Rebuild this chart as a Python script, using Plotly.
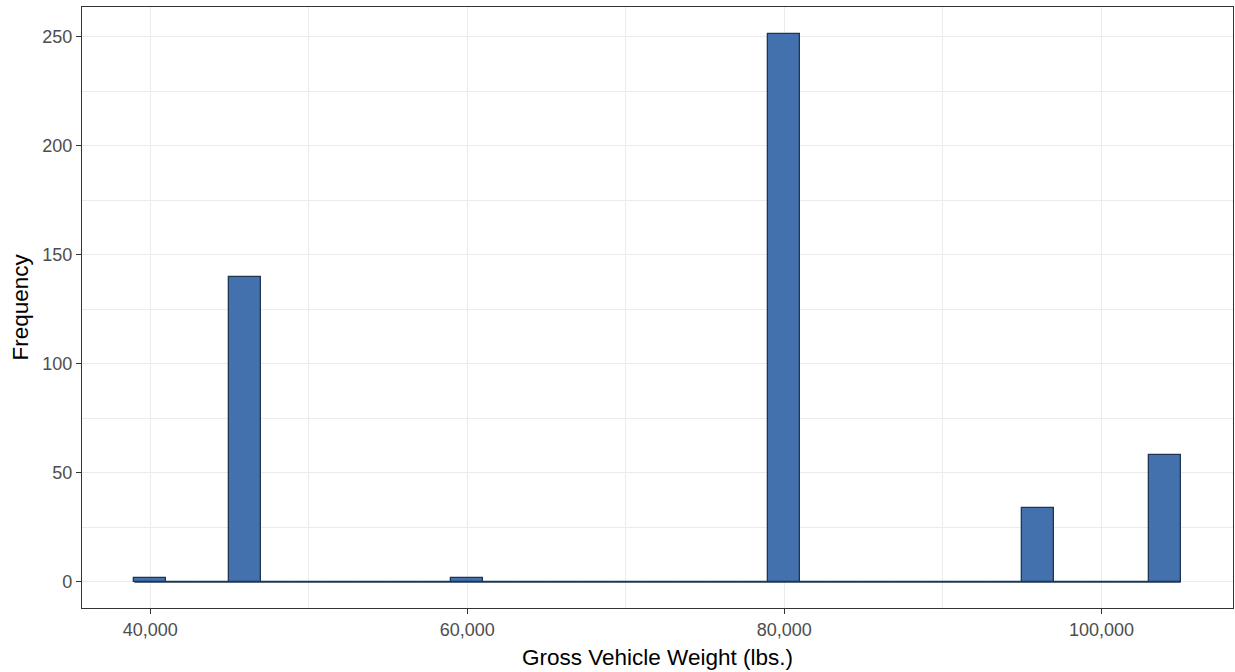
import plotly.graph_objects as go

# histogram bins (2,000 lb wide), counts
bin_width = 2000
bin_centers = [40000, 42000, 44000, 46000, 48000, 50000, 52000, 54000, 56000,
               58000, 60000, 62000, 64000, 66000, 68000, 70000, 72000, 74000,
               76000, 78000, 80000, 82000, 84000, 86000, 88000, 90000, 92000,
               94000, 96000, 98000, 100000, 102000, 104000]
counts = [2, 0, 0, 140, 0, 0, 0, 0, 0,
          0, 2, 0, 0, 0, 0, 0, 0, 0,
          0, 0, 251, 0, 0, 0, 0, 0, 0,
          0, 34, 0, 0, 0, 58]

x_ticks = [40000, 60000, 80000, 100000]
x_labels = ["40,000", "60,000", "80,000", "100,000"]
y_ticks = [0, 50, 100, 150, 200, 250]

fill_col = "#4271AE"
edge_col = "#1F3552"
grid_col = "#EBEBEB"
border_col = "#333333"

fig = go.Figure()

# empty bins show up as a flat outline along zero (ggplot style)
fig.add_trace(go.Scatter(
    x=[bin_centers[0] - bin_width / 2, bin_centers[-1] + bin_width / 2],
    y=[0, 0],
    mode="lines",
    line=dict(color=edge_col, width=1.3),
    showlegend=False,
    hoverinfo="skip",
))

fig.add_trace(go.Bar(
    x=bin_centers,
    y=counts,
    width=bin_width,
    marker=dict(color=fill_col, line=dict(color=edge_col, width=1.3)),
    showlegend=False,
))

# ggplot's 5% expansion on both axes
x_lo = bin_centers[0] - bin_width / 2
x_hi = bin_centers[-1] + bin_width / 2
x_pad = (x_hi - x_lo) * 0.05
y_pad = max(counts) * 0.05

fig.update_layout(
    width=1235,
    height=672,
    margin=dict(l=82, r=2, t=7, b=64),
    plot_bgcolor="white",
    paper_bgcolor="white",
    font=dict(family="Liberation Sans, Arial, sans-serif"),
    bargap=0,
    xaxis=dict(
        range=[x_lo - x_pad, x_hi + x_pad],
        tickvals=x_ticks,
        ticktext=x_labels,
        tickfont=dict(size=18, color="#4D4D4D"),
        ticks="outside",
        ticklen=5,
        tickwidth=1,
        tickcolor=border_col,
        showgrid=True,
        gridcolor=grid_col,
        gridwidth=1.2,
        minor=dict(tickmode="linear", tick0=30000, dtick=10000,
                   showgrid=True, gridcolor=grid_col, gridwidth=0.6, ticks=""),
        zeroline=False,
        showline=True,
        linecolor=border_col,
        linewidth=1.2,
        mirror=True,
        automargin=False,
    ),
    yaxis=dict(
        range=[-y_pad * 0.95, max(counts) + y_pad],
        tickvals=y_ticks,
        tickfont=dict(size=18, color="#4D4D4D"),
        ticks="outside",
        ticklen=5,
        tickwidth=1,
        tickcolor=border_col,
        showgrid=True,
        gridcolor=grid_col,
        gridwidth=1.2,
        minor=dict(tickmode="linear", tick0=25, dtick=50,
                   showgrid=True, gridcolor=grid_col, gridwidth=0.6, ticks=""),
        zeroline=False,
        showline=True,
        linecolor=border_col,
        linewidth=1.2,
        mirror=True,
        automargin=False,
    ),
    annotations=[
        dict(text="Gross Vehicle Weight (lbs.)", xref="paper", yref="paper",
             x=0.5, y=0, xanchor="center", yanchor="middle", yshift=-49,
             showarrow=False, font=dict(size=22.5, color="black")),
        dict(text="Frequency", xref="paper", yref="paper",
             x=0, y=0.5, xanchor="center", yanchor="middle", xshift=-62,
             textangle=-90, showarrow=False,
             font=dict(size=22.5, color="black")),
    ],
)

# drop the page's default body margin so the figure sits at the window corner
fig.write_html("out.html", config={"displayModeBar": False},
               post_script="document.body.style.margin = '0';")
